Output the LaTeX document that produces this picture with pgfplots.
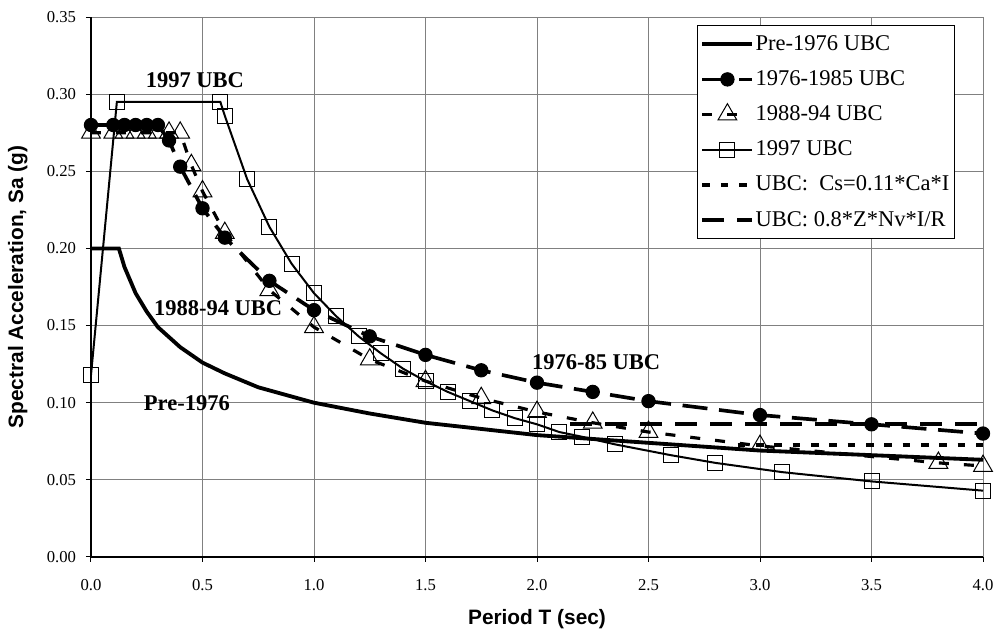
\documentclass[border=0pt]{standalone}
\usepackage{fontspec}
\setmainfont{Liberation Serif}
\newfontfamily\arialfont{Liberation Sans}
\usepackage{pgfplots}
\pgfplotsset{compat=1.18}
\begin{document}
\begin{tikzpicture}
\path[use as bounding box] (-54.6pt,-46.2pt) rectangle (546pt,334.2pt);
\begin{axis}[
  at={(0pt,0pt)}, anchor=south west,
  scale only axis, width=535.2pt, height=324pt,
  xmin=0, xmax=4, ymin=0, ymax=0.35,
  xtick={0,0.5,1,1.5,2,2.5,3,3.5,4},
  ytick={0,0.05,0.10,0.15,0.20,0.25,0.30,0.35},
  axis x line*=bottom, axis y line*=left,
  axis line style={black, line width=0.8pt, -},
  grid=major, major grid style={draw=gray, line width=0.6pt},
  tick align=outside, major tick length=3pt,
  tick style={black, line width=0.6pt},
  /pgf/number format/assume math mode=true,
  xticklabel={\pgfmathprintnumber[fixed,fixed zerofill,precision=1]{\tick}},
  yticklabel={\pgfmathprintnumber[fixed,fixed zerofill,precision=2]{\tick}},
  xticklabel style={font=\fontsize{10}{11}\selectfont, yshift=-7pt},
  yticklabel style={font=\fontsize{10}{11}\selectfont, xshift=-2.5pt},
  xlabel={Period T (sec)},
  ylabel={Spectral Acceleration, Sa (g)},
  xlabel style={font=\arialfont\bfseries\fontsize{12.5}{14}\selectfont, at={(axis description cs:0.5,-0.115)}, anchor=center},
  ylabel style={font=\arialfont\bfseries\fontsize{12.5}{14}\selectfont, at={(axis description cs:-0.082,0.5)}, anchor=center},
  legend style={at={(axis description cs:0.679,0.985)}, anchor=north west, draw=black, line width=0.6pt, fill=white,
    font=\fontsize{13.5}{16}\selectfont, row sep=6.6pt, inner xsep=2pt, inner ysep=4pt,
    nodes={inner xsep=0.8pt}},
  legend cell align=left,
  legend image code/.code={\draw[mark repeat=2, mark phase=2, #1] plot coordinates {(0pt,0pt) (15pt,0pt) (30pt,0pt)};},
  clip=false,
]
% Pre-1976 UBC
\addplot[black, line width=2.3pt, no markers] coordinates {
(0,0.200) (0.125,0.200) (0.15,0.188) (0.2,0.171) (0.25,0.159) (0.3,0.149)
(0.4,0.136) (0.5,0.126) (0.6,0.119) (0.75,0.110) (1.0,0.100) (1.25,0.093)
(1.5,0.087) (1.75,0.083) (2.0,0.079) (2.5,0.074) (3.0,0.069) (3.5,0.066) (4.0,0.063)};
\addlegendentry{Pre-1976 UBC}
% 1976-1985 UBC
\addplot[black, line width=2.2pt, dash pattern=on 15pt off 7pt, mark=*, mark size=4pt,
  mark options={solid, fill=black, line width=0.6pt}] coordinates {
(0,0.280) (0.1,0.280) (0.15,0.280) (0.2,0.280) (0.25,0.280) (0.3,0.280)
(0.35,0.270) (0.4,0.253) (0.5,0.226) (0.6,0.207) (0.8,0.179) (1.0,0.160)
(1.25,0.143) (1.5,0.131) (1.75,0.121) (2.0,0.113) (2.25,0.107) (2.5,0.101)
(3.0,0.092) (3.5,0.086) (4.0,0.080)};
\addlegendentry{1976-1985 UBC}
% 1988-94 UBC
\addplot[black, line width=1.9pt, dash pattern=on 6pt off 9pt, mark=triangle, mark size=6.5pt,
  mark options={solid, fill=white, line width=0.6pt}] coordinates {
(0,0.275) (0.1,0.275) (0.15,0.275) (0.2,0.275) (0.25,0.275) (0.3,0.275)
(0.35,0.275) (0.4,0.275) (0.45,0.254) (0.5,0.237) (0.6,0.210) (0.8,0.173)
(1.0,0.149) (1.25,0.128) (1.5,0.114) (1.75,0.103) (2.0,0.094) (2.25,0.087)
(2.5,0.081) (3.0,0.072) (3.8,0.061) (4.0,0.059)};
\addlegendentry{1988-94 UBC}
% 1997 UBC
\addplot[black, line width=1.2pt, mark=square, mark size=4.5pt,
  mark options={solid, fill=white, line width=0.6pt}] coordinates {
(0,0.118) (0.116,0.295) (0.58,0.295) (0.6,0.286) (0.7,0.245) (0.8,0.214)
(0.9,0.190) (1.0,0.171) (1.1,0.156) (1.2,0.143) (1.3,0.132) (1.4,0.122)
(1.5,0.114) (1.6,0.107) (1.7,0.101) (1.8,0.095) (1.9,0.090) (2.0,0.086)
(2.1,0.081) (2.2,0.078) (2.35,0.073) (2.6,0.066) (2.8,0.061) (3.1,0.055)
(3.5,0.049) (4.0,0.043)};
\addlegendentry{1997 UBC}
% UBC Cs = 0.11 Ca I
\addplot[black, line width=2.2pt, dash pattern=on 4.5pt off 6.5pt, no markers] coordinates {
(2.9,0.0726) (4.0,0.0726)};
\addlegendentry{UBC:\ \ Cs=0.11*Ca*I\hspace{12pt}}
% UBC 0.8 Z Nv I/R
\addplot[black, line width=2.2pt, dash pattern=on 13pt off 8pt, no markers] coordinates {
(2.15,0.0862) (4.0,0.0862)};
\addlegendentry{UBC: 0.8*Z*Nv*I/R}
\node[font=\bfseries\fontsize{13.5}{16}\selectfont] at (axis cs:0.466,0.309) {1997 UBC};
\node[font=\bfseries\fontsize{13.5}{16}\selectfont] at (axis cs:0.57,0.161) {1988-94 UBC};
\node[font=\bfseries\fontsize{13.5}{16}\selectfont] at (axis cs:2.265,0.126) {1976-85 UBC};
\node[font=\bfseries\fontsize{13.5}{16}\selectfont] at (axis cs:0.43,0.100) {Pre-1976};
\end{axis}
\end{tikzpicture}
\end{document}
